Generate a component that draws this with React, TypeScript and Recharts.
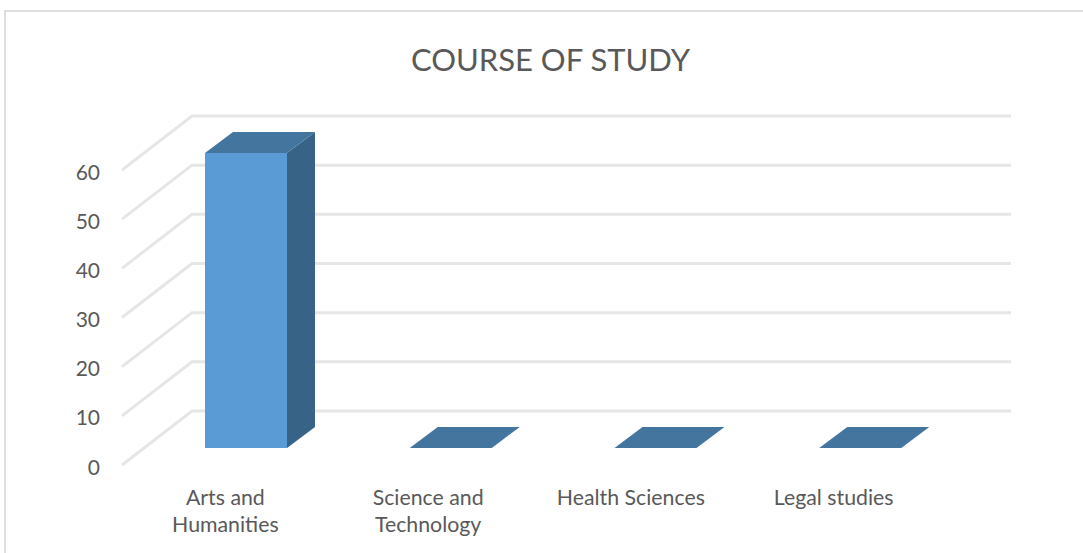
import { Bar, BarChart, CartesianGrid, XAxis, YAxis } from "recharts";

const TITLE = "COURSE OF STUDY";
const categories = ["Arts and Humanities", "Science and Technology", "Health Sciences", "Legal studies"];
const students = [60, 0, 0, 0];
const valueTicks = [0, 10, 20, 30, 40, 50, 60];
// how the category labels wrap in the reference
const tickLines: Record<string, string[]> = {
  "Arts and Humanities": ["Arts and", "Humanities"],
  "Science and Technology": ["Science and", "Technology"],
  "Health Sciences": ["Health Sciences"],
  "Legal studies": ["Legal studies"],
};

const data = categories.map((name, i) => ({ name, value: students[i] }));

const FONT = "Lato, 'Open Sans', sans-serif";
const TEXT_COLOR = "#595959";
const GRID_COLOR = "#e6e6e6";
const FRONT_COLOR = "#5b9bd5";
const TOP_COLOR = "#44759f";
const SIDE_COLOR = "#376387";

// fake 3D: the wall sits up and to the right of the floor's front edge
const WALL_DX = 70;
const WALL_DY = 54;
const BAR_DX = 48; // front of bar relative to the wall
const BAR_DY = 37;
const DEPTH_X = 28;
const DEPTH_Y = 21;

function GridLine({ x1, x2, y1 }: any) {
  return (
    <polyline
      points={`${x1 - WALL_DX},${y1 + WALL_DY} ${x1},${y1} ${x2},${y1}`}
      fill="none"
      stroke={GRID_COLOR}
      strokeWidth={3}
    />
  );
}

function Bar3D({ x, y, width, height }: any) {
  const left = x - BAR_DX;
  const right = left + width;
  const top = y + BAR_DY;
  const bottom = top + height;
  return (
    <g>
      {height > 0 && <rect x={left} y={top} width={width} height={height} fill={FRONT_COLOR} />}
      {height > 0 && (
        <polygon
          points={`${right},${top} ${right + DEPTH_X},${top - DEPTH_Y} ${right + DEPTH_X},${bottom - DEPTH_Y} ${right},${bottom}`}
          fill={SIDE_COLOR}
        />
      )}
      <polygon
        points={`${left},${top} ${right},${top} ${right + DEPTH_X},${top - DEPTH_Y} ${left + DEPTH_X},${top - DEPTH_Y}`}
        fill={TOP_COLOR}
      />
    </g>
  );
}

function ValueTick({ y, payload }: any) {
  return (
    <text x={100} y={y + 55} textAnchor="end" dominantBaseline="central" fontSize={21} fontFamily={FONT} fill={TEXT_COLOR}>
      {payload.value}
    </text>
  );
}

function CategoryTick({ x, index, payload }: any) {
  const lines = tickLines[payload.value] ?? [payload.value];
  // labels sit a little tighter than the bars in the reference
  const cx = x - 69 - index * 2;
  return (
    <text x={cx} textAnchor="middle" fontSize={21.3} fontFamily={FONT} fill={TEXT_COLOR}>
      {lines.map((line, i) => (
        <tspan key={line} x={cx} y={505 + i * 27}>
          {line}
        </tspan>
      ))}
    </text>
  );
}

export default function App() {
  return (
    <div style={{ position: "absolute", left: 0, top: 0, width: 1083, height: 553, background: "#fff", overflow: "hidden" }}>
      <div style={{ position: "absolute", left: 4, top: 10, right: -2, bottom: -2, border: "2px solid #dedede" }} />
      <div
        style={{
          position: "absolute",
          left: 0,
          top: 37,
          width: 1101,
          textAlign: "center",
          fontFamily: FONT,
          fontSize: 31,
          lineHeight: "44px",
          color: TEXT_COLOR,
        }}
      >
        {TITLE}
      </div>
      <div style={{ position: "absolute", left: 0, top: 0 }}>
        <BarChart
          width={1083}
          height={553}
          data={data}
          margin={{ top: 116, right: 72, bottom: 141, left: 191 }}
          barCategoryGap={0}
        >
          <CartesianGrid vertical={false} horizontal={(props: any) => <GridLine key={props.key ?? props.y1} {...props} />} />
          <XAxis dataKey="name" axisLine={false} tickLine={false} height={1} interval={0} tick={<CategoryTick />} />
          <YAxis width={1} domain={[0, 60]} ticks={valueTicks} axisLine={false} tickLine={false} tick={<ValueTick />} />
          <Bar dataKey="value" barSize={82} isAnimationActive={false} shape={<Bar3D />} />
        </BarChart>
      </div>
    </div>
  );
}
